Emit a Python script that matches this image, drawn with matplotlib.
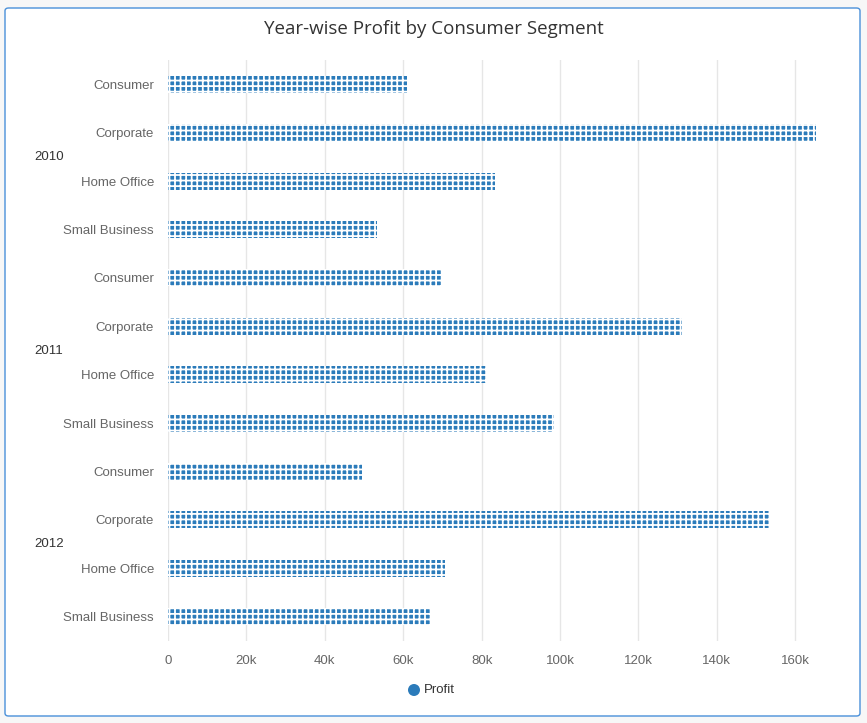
import matplotlib
matplotlib.use("Agg")
import matplotlib.pyplot as plt
from matplotlib.patches import FancyBboxPatch, Ellipse
import matplotlib.transforms as mtransforms
import numpy as np

years = ["2010", "2011", "2012"]
segments = ["Consumer", "Corporate", "Home Office", "Small Business"]
profit = {
    "2010": [61.0, 165.3, 83.4, 53.3],
    "2011": [69.6, 131.1, 81.1, 98.5],
    "2012": [49.5, 153.6, 70.7, 67.1],
}
xticks = [0, 20, 40, 60, 80, 100, 120, 140, 160]
xtick_labels = ["0", "20k", "40k", "60k", "80k", "100k", "120k", "140k", "160k"]

plt.rcParams["hatch.linewidth"] = 1.3
fig = plt.figure(figsize=(8.67, 7.23), dpi=100, facecolor="#f7f7f7")
border = FancyBboxPatch((5/867, 1-716/723), 855/867, 708/723,
                        boxstyle="round,pad=0,rounding_size=0.004",
                        transform=fig.transFigure, facecolor="white",
                        edgecolor="#4a90d9", linewidth=1.0, zorder=-10)
fig.patches.append(border)

ax = fig.add_axes([168/867, 1-641/723, (845-168)/867, (641-60)/723])
ax.set_facecolor("none")
ax.set_zorder(5)

labels = []
vals = []
for y in years:
    for s, v in zip(segments, profit[y]):
        labels.append(s)
        vals.append(v)
pos = np.arange(len(vals))
ax.barh(pos, vals, height=0.35, color="#2b7bba", edgecolor="white",
        linewidth=0, hatch="+++", zorder=3)
ax.set_ylim(len(vals) - 0.5, -0.5)
ax.set_xlim(0, 172.7)
ax.set_yticks(pos)
ax.set_yticklabels(labels, fontsize=9.5, color="#666666", family="Liberation Sans")
ax.tick_params(axis="y", length=0, pad=10)
ax.set_xticks(xticks)
ax.set_xticklabels(xtick_labels, fontsize=9.5, color="#666666", family="Liberation Sans")
ax.tick_params(axis="x", length=0, pad=10)
ax.grid(axis="x", color="#e6e6e6", linewidth=1, zorder=0)
for sp in ax.spines.values():
    sp.set_visible(False)

ytrans = mtransforms.blended_transform_factory(fig.transFigure, ax.transData)
for i, y in enumerate(years):
    ax.text(34/867, i*4 + 1.5, y, transform=ytrans,
            ha="left", va="center", fontsize=9.5, color="#333333",
            family="Liberation Sans", clip_on=False)

fig.text(0.5, 1-29/723, "Year-wise Profit by Consumer Segment", ha="center", va="center",
         fontsize=13.5, color="#333333", family="Open Sans")
fig.text(424/867, 1-690/723, "Profit", ha="left", va="center", fontsize=9.5,
         color="#333333", family="Liberation Sans")
fig.patches.append(Ellipse((414/867, 1-690/723), 12/867, 12/723,
                   transform=fig.transFigure, facecolor="#2b7bba", edgecolor="none"))

fig.savefig("out.png", dpi=100, facecolor=fig.get_facecolor())
